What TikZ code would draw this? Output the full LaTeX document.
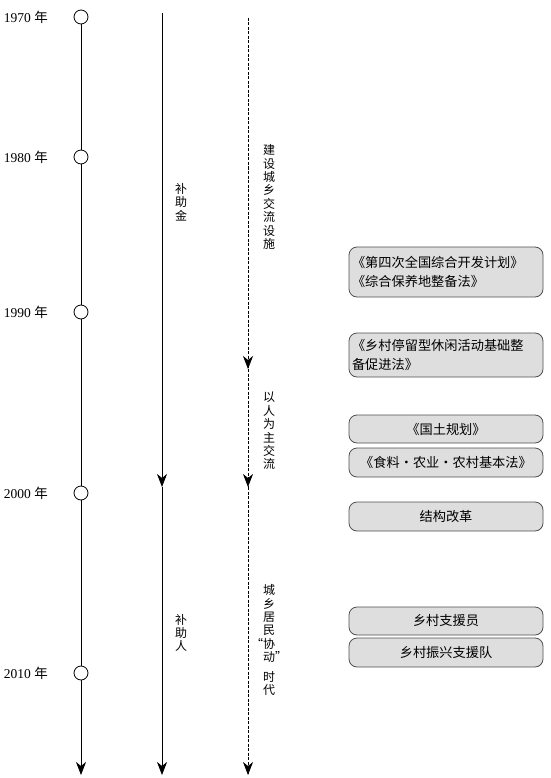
\documentclass[tikz,border=0pt]{standalone}
\usepackage{fontspec}
\setmainfont{Liberation Serif}
\newfontfamily\cjk{Noto Sans CJK SC}
\usetikzlibrary{arrows.meta}
\definecolor{boxfill}{RGB}{222,222,222}
\definecolor{boxline}{RGB}{80,80,80}
\begin{document}
\begin{tikzpicture}[x=1pt,y=-1pt,
	jahrkreis/.style={circle,draw,fill=white,minimum size=14pt,inner sep=0pt,line width=0.8pt},
	jahr/.style={anchor=east,font=\fontsize{13.5}{15}\selectfont,inner sep=0pt},
	linie/.style={line width=0.8pt},
	pfeil/.style={line width=0.8pt,-{Stealth[length=13pt,width=10pt,inset=4pt]}},
	strich/.style={line width=0.8pt,dash pattern=on 3pt off 1.5pt},
	senkrecht/.style={align=center,inner sep=0pt,font=\cjk\fontsize{12}{13.4}\selectfont},
	gesetz/.style={draw=boxline,fill=boxfill,rounded corners=8pt,line width=0.8pt,
		minimum width=194pt,text width=188pt,inner xsep=3pt,inner ysep=0pt,
		font=\cjk\fontsize{13.2}{19}\selectfont}]
	\useasboundingbox (0,0) rectangle (550,778);

	% Zeitachse
	\node[jahrkreis] (k1970) at (81,17) {};
	\node[jahrkreis] (k1980) at (81,157) {};
	\node[jahrkreis] (k1990) at (81,312) {};
	\node[jahrkreis] (k2000) at (81,493) {};
	\node[jahrkreis] (k2010) at (81,673) {};
	\coordinate (kende) at (81,775);
	\draw[linie] (k1970) -- (k1980);
	\draw[linie] (k1980) -- (k1990);
	\draw[linie] (k1990) -- (k2000);
	\draw[linie] (k2000) -- (k2010);
	\draw[pfeil] (k2010) -- (kende);

	\node[jahr] (j1970) at (48,17) {1970 {\cjk 年}};
	\node[jahr] (j1980) at (48,157) {1980 {\cjk 年}};
	\node[jahr] (j1990) at (48,312) {1990 {\cjk 年}};
	\node[jahr] (j2000) at (48,493) {2000 {\cjk 年}};
	\node[jahr] (j2010) at (48,673) {2010 {\cjk 年}};

	% Foerderung
	\coordinate (f0) at (162,13);
	\coordinate (f1) at (162,487);
	\coordinate (f2) at (162,775);
	\draw[pfeil] (f0) -- (f1);
	\draw[pfeil] (f1) -- (f2);
	\node[senkrecht] (geld) at (181,202) {补\\助\\金};
	\node[senkrecht] (leute) at (181,633) {补\\助\\人};

	% Austausch, gestrichelt
	\coordinate (a0) at (248,18);
	\coordinate (a1) at (248,369);
	\coordinate (a2) at (248,487);
	\coordinate (a3) at (248,775);
	\draw[strich] (a0) -- (a1);
	\draw[pfeil] (248,360) -- (a1);
	\draw[strich] (a1) -- (a2);
	\draw[pfeil] (248,478) -- (a2);
	\draw[strich] (a2) -- (a3);
	\draw[pfeil] (248,766) -- (a3);
	\node[senkrecht] (bau) at (269,197) {建\\设\\城\\乡\\交\\流\\设\\施};
	\node[senkrecht] (mensch) at (269,431) {以\\人\\为\\主\\交\\流};
	\node[senkrecht] (zeit) at (269,640) {城\\乡\\居\\民\\\llap{“}协\\动\rlap{”}\\[6pt]时\\代};

	% Gesetze und Plaene
	\node[gesetz,align=left,minimum height=50pt] (plan4) at (446,272) {《第四次全国综合开发计划》\\《综合保养地整备法》};
	\node[gesetz,align=left,minimum height=44pt] (freizeit) at (446,355) {《乡村停留型休闲活动基础整\\备促进法》};
	\node[gesetz,align=center,minimum height=28pt] (land) at (446,429) {《国土规划》};
	\node[gesetz,align=center,minimum height=29pt] (agrar) at (446,462.5) {《食料・农业・农村基本法》};
	\node[gesetz,align=center,minimum height=29pt] (reform) at (446,516.5) {结构改革};
	\node[gesetz,align=center,minimum height=28pt] (helfer) at (446,621) {乡村支援员};
	\node[gesetz,align=center,minimum height=29pt] (trupp) at (446,652.5) {乡村振兴支援队};
\end{tikzpicture}
\end{document}
